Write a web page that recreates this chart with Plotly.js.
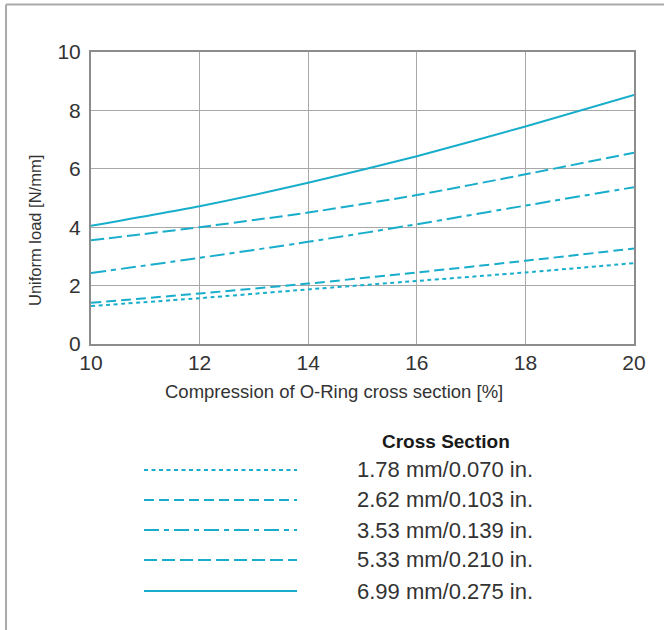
<!DOCTYPE html>
<html>
<head>
<meta charset="utf-8">
<script src="https://cdn.plot.ly/plotly-3.0.1.min.js"></script>
<style>
  html, body { margin: 0; padding: 0; background: #fff; }
  #chart { width: 664px; height: 630px; }
</style>
</head>
<body>
<div id="chart"></div>
<script>
// ---- data ----
const compression = [10, 12, 14, 16, 18, 20];
const load178 = [1.30, 1.57, 1.87, 2.16, 2.45, 2.77];
const load262 = [1.41, 1.73, 2.07, 2.45, 2.85, 3.27];
const load353 = [2.43, 2.95, 3.50, 4.10, 4.74, 5.37];
const load533 = [3.55, 4.00, 4.50, 5.10, 5.81, 6.55];
const load699 = [4.05, 4.72, 5.52, 6.43, 7.45, 8.53];
const seriesNames = ["1.78 mm/0.070 in.", "2.62 mm/0.103 in.", "3.53 mm/0.139 in.", "5.33 mm/0.210 in.", "6.99 mm/0.275 in."];
const legendTitle = "Cross Section";
const xTitle = "Compression of O-Ring cross section [%]";
const yTitle = "Uniform load [N/mm]";

// ---- styles ----
const lineColor = "#18aecb";
const dashes = ["4px,3.5px", "10px,5px", "15px,5px,5px,5px", "13px,5px", "solid"];
const allSeries = [load178, load262, load353, load533, load699];
const textColor = "#333333";
const FONT = "Liberation Sans, Arial, sans-serif";

const traces = allSeries.map((ys, i) => ({
  x: compression, y: ys, name: seriesNames[i], type: "scatter", mode: "lines",
  line: { color: lineColor, width: 2, dash: dashes[i], shape: "spline", smoothing: 0.6 },
  hoverinfo: "skip", showlegend: false
}));

// legend built below the plot (paper coordinates)
const legendRowsY = [-0.4315, -0.5342, -0.637, -0.7397, -0.8459];
const shapes = [];
const annotations = [];
seriesNames.forEach((nm, i) => {
  shapes.push({ type: "line", xref: "paper", yref: "paper", x0: 0.0976, x1: 0.3794,
    y0: legendRowsY[i], y1: legendRowsY[i], line: { color: lineColor, width: 2, dash: dashes[i] } });
  annotations.push({ xref: "paper", yref: "paper", x: 0.4862, y: legendRowsY[i], xanchor: "left", yanchor: "middle",
    text: nm, showarrow: false, font: { family: FONT, size: 22, color: textColor } });
});
annotations.push({ xref: "paper", yref: "paper", x: 0.6538, y: -0.3322, xanchor: "center", yanchor: "middle",
  text: "<b>" + legendTitle + "</b>", showarrow: false,
  font: { family: "Liberation Sans Narrow, Arial Narrow, Liberation Sans, sans-serif", size: 19, color: "#1a1a1a" } });

// axis titles (placed as in the original, off-centre)
annotations.push({ xref: "paper", yref: "paper", x: 0.4484, y: -0.161, xanchor: "center", yanchor: "middle",
  text: xTitle, showarrow: false, font: { family: FONT, size: 18.5, color: textColor } });
annotations.push({ xref: "paper", yref: "paper", x: -0.1031, y: 0.387, xanchor: "center", yanchor: "middle",
  textangle: -90, text: yTitle, showarrow: false, font: { family: FONT, size: 16.5, color: textColor } });

// outer frame (top and left edges)
shapes.push({ type: "line", xref: "paper", yref: "paper", x0: -0.1565, x1: 1.2, y0: 1.1626, y1: 1.1626,
  line: { color: "#aaaaaa", width: 2 } });
shapes.push({ type: "line", xref: "paper", yref: "paper", x0: -0.1565, x1: -0.1565, y0: 1.1626, y1: -1.05,
  line: { color: "#aaaaaa", width: 2 } });

const layout = {
  width: 664, height: 630,
  margin: { l: 91, r: 30, t: 52, b: 286 },
  paper_bgcolor: "#ffffff", plot_bgcolor: "#ffffff",
  showlegend: false,
  font: { family: FONT, color: textColor },
  xaxis: {
    range: [10, 20], dtick: 2, tick0: 10,
    showgrid: true, gridcolor: "#a8a8a8", gridwidth: 1,
    showline: true, mirror: true, linecolor: "#8c8c8c", linewidth: 2,
    ticks: "", zeroline: false, ticklabelstandoff: -1,
    tickfont: { family: FONT, size: 21, color: textColor }
  },
  yaxis: {
    range: [0, 10], dtick: 2, tick0: 0,
    showgrid: true, gridcolor: "#a8a8a8", gridwidth: 1,
    showline: true, mirror: true, linecolor: "#8c8c8c", linewidth: 2,
    ticks: "", zeroline: false, ticklabelstandoff: 4,
    tickfont: { family: FONT, size: 21, color: textColor }
  },
  shapes: shapes,
  annotations: annotations
};

Plotly.newPlot("chart", traces, layout, { displayModeBar: false, staticPlot: true });
</script>
</body>
</html>
